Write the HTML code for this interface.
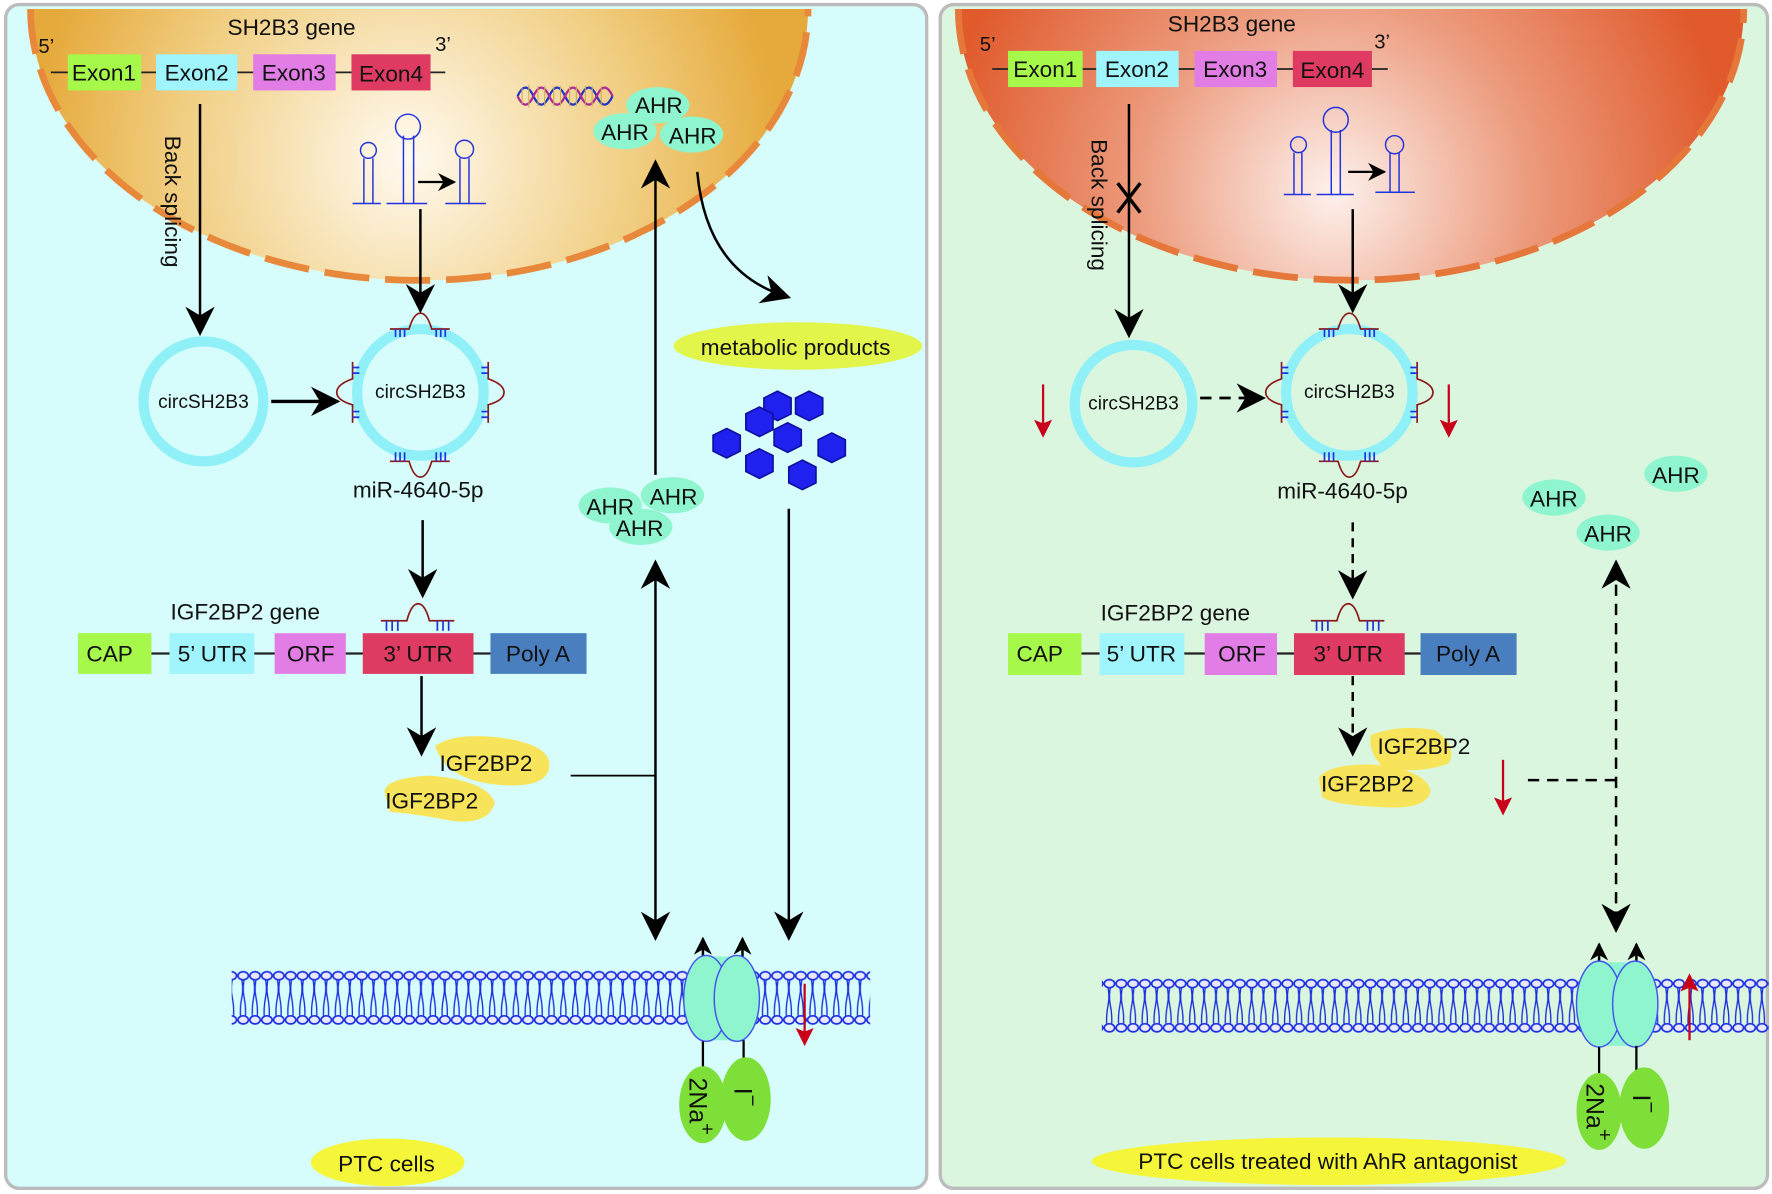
<!DOCTYPE html>
<html><head><meta charset="utf-8"><style>
html,body{margin:0;padding:0;background:#fff;}
svg{display:block;}
text{font-family:"Liberation Sans",Arial,sans-serif;fill:#111;}
</style></head><body>
<svg width="1772" height="1194" viewBox="0 0 1568 1056" preserveAspectRatio="none" xmlns="http://www.w3.org/2000/svg">
<defs>
<marker id="ah" viewBox="0 0 10 10" refX="9" refY="5" markerWidth="16" markerHeight="16" orient="auto-start-reverse" markerUnits="userSpaceOnUse">
<path d="M0,0 L10,5 L0,10 L3,5 Z" fill="#000"/></marker>
<marker id="a" viewBox="0 0 10 10" refX="8" refY="5" markerWidth="26" markerHeight="26" orient="auto-start-reverse" markerUnits="userSpaceOnUse">
<path d="M0,0 L10,5 L0,10 L3,5 Z" fill="#000"/></marker>
<marker id="ar" viewBox="0 0 10 10" refX="8" refY="5" markerWidth="16" markerHeight="16" orient="auto-start-reverse" markerUnits="userSpaceOnUse">
<path d="M0,0 L10,5 L0,10 L2,5 Z" fill="#c8001a"/></marker>
<radialGradient id="gl" cx="360" cy="140" r="330" gradientUnits="userSpaceOnUse">
<stop offset="0" stop-color="#fffaf0"/><stop offset="0.6" stop-color="#f1cf84"/><stop offset="1" stop-color="#e6aa3c"/></radialGradient>
<radialGradient id="gr" cx="1180" cy="170" r="350" gradientUnits="userSpaceOnUse">
<stop offset="0" stop-color="#fdf1ec"/><stop offset="0.5" stop-color="#ec9a7c"/><stop offset="1" stop-color="#e05a2c"/></radialGradient>
<pattern id="meml" x="0" y="855" width="10.5" height="55" patternUnits="userSpaceOnUse">
<path d="M3,8 Q6,18 4,27 Q2,37 3,47 M7,8 Q4,18 6,27 Q8,37 7,47" stroke="#1a2ee0" stroke-width="1.2" fill="none"/>
<ellipse cx="5.2" cy="8" rx="4.6" ry="3.6" fill="#e8e8f8" stroke="#1a2ee0" stroke-width="1.5"/>
<ellipse cx="5.2" cy="47" rx="4.6" ry="3.6" fill="#e8e8f8" stroke="#1a2ee0" stroke-width="1.5"/>
</pattern>
<pattern id="memr" x="0" y="862" width="10.5" height="55" patternUnits="userSpaceOnUse">
<path d="M3,8 Q6,18 4,27 Q2,37 3,47 M7,8 Q4,18 6,27 Q8,37 7,47" stroke="#1a2ee0" stroke-width="1.2" fill="none"/>
<ellipse cx="5.2" cy="8" rx="4.6" ry="3.6" fill="#e8e8f8" stroke="#1a2ee0" stroke-width="1.5"/>
<ellipse cx="5.2" cy="47" rx="4.6" ry="3.6" fill="#e8e8f8" stroke="#1a2ee0" stroke-width="1.5"/>
</pattern>
</defs>

<rect x="5" y="4" width="815" height="1047" rx="12" fill="#d6fcfb" stroke="#bcbcbc" stroke-width="3"/>
<rect x="832" y="4" width="732" height="1047" rx="12" fill="#dbf6df" stroke="#bcbcbc" stroke-width="3"/>

<path d="M27,8 A344,240 0 0 0 715,8 Z" fill="url(#gl)"/>
<path d="M27,8 A344,240 0 0 0 715,8" fill="none" stroke="#e8883a" stroke-width="6" stroke-dasharray="40,14"/>
<path d="M848,8 A347.5,240 0 0 0 1543,8 Z" fill="url(#gr)"/>
<path d="M848,8 A347.5,240 0 0 0 1543,8" fill="none" stroke="#e6773a" stroke-width="6" stroke-dasharray="40,14"/>

<text x="258" y="31" font-size="20" text-anchor="middle">SH2B3 gene</text>
<text x="34" y="47" font-size="18">5’</text><text x="385" y="45" font-size="18">3’</text>
<line x1="45" y1="64" x2="394" y2="64" stroke="#222" stroke-width="1.5"/>
<rect x="60" y="48" width="65" height="32" fill="#a6f84a"/><text x="92" y="71" font-size="20" text-anchor="middle">Exon1</text>
<rect x="138" y="48" width="72" height="32" fill="#9ff5fb"/><text x="174" y="71" font-size="20" text-anchor="middle">Exon2</text>
<rect x="224" y="48" width="73" height="32" fill="#e27de6"/><text x="260" y="71" font-size="20" text-anchor="middle">Exon3</text>
<rect x="311" y="48" width="70" height="32" fill="#df3b62"/><text x="346" y="72" font-size="20" text-anchor="middle">Exon4</text>

<text x="1090" y="28" font-size="20" text-anchor="middle">SH2B3 gene</text>
<text x="867" y="45" font-size="18">5’</text><text x="1216" y="43" font-size="18">3’</text>
<line x1="878" y1="61" x2="1228" y2="61" stroke="#222" stroke-width="1.5"/>
<rect x="892" y="45" width="66" height="32" fill="#a6f84a"/><text x="925" y="68" font-size="20" text-anchor="middle">Exon1</text>
<rect x="970" y="45" width="73" height="32" fill="#9ff5fb"/><text x="1006" y="68" font-size="20" text-anchor="middle">Exon2</text>
<rect x="1057" y="45" width="73" height="32" fill="#e27de6"/><text x="1093" y="68" font-size="20" text-anchor="middle">Exon3</text>
<rect x="1144" y="45" width="70" height="32" fill="#df3b62"/><text x="1179" y="69" font-size="20" text-anchor="middle">Exon4</text>

<g stroke="#2233dd" stroke-width="1.3" fill="none">
<path d="M312,180 H337 M322,180 V140 M330,180 V140 M357,180 V120 M366,180 V120 M342,180 H378"/>
<circle cx="326" cy="133" r="7"/><circle cx="361" cy="112" r="11"/>
<path d="M394,180 H430 M407,180 V140 M415,180 V140"/><circle cx="411" cy="132" r="8"/>
<path d="M1136,172 H1160 M1145,172 V135 M1152,172 V135 M1178,172 V115 M1186,172 V115 M1165,172 H1198"/>
<circle cx="1149" cy="128" r="7"/><circle cx="1182" cy="106" r="11"/>
<path d="M1217,170 H1252 M1230,170 V135 M1238,170 V135"/><circle cx="1234" cy="128" r="8"/>
</g>
<line x1="370" y1="161" x2="402" y2="161" stroke="#000" stroke-width="2" marker-end="url(#ah)"/>
<line x1="1193" y1="152" x2="1225" y2="152" stroke="#000" stroke-width="2" marker-end="url(#ah)"/>

<g stroke-width="2" fill="none">
<path d="M458,85 Q465,70 472,85 T486,85 T500,85 T514,85 T528,85 T542,85" stroke="#2233cc"/>
<path d="M458,85 Q465,100 472,85 T486,85 T500,85 T514,85 T528,85 T542,85" stroke="#b0269a"/>
<path d="M462,78 V92 M468,75 V95 M476,76 V94 M482,76 V94 M490,76 V94 M496,76 V94 M504,76 V94 M510,76 V94 M518,76 V94 M524,76 V94 M532,76 V94" stroke="#c9b050" stroke-width="1"/>
</g>

<g fill="#8ef5cf">
<ellipse cx="582" cy="93" rx="28" ry="16"/><ellipse cx="553" cy="116" rx="28" ry="16"/><ellipse cx="612" cy="119" rx="28" ry="16"/>
<ellipse cx="595" cy="438" rx="28" ry="16"/><ellipse cx="540" cy="447" rx="28" ry="16"/><ellipse cx="567" cy="466" rx="28" ry="16"/>
<ellipse cx="1375" cy="440" rx="28" ry="16"/><ellipse cx="1483" cy="419" rx="28" ry="16"/><ellipse cx="1423" cy="471" rx="28" ry="16"/>
</g>
<g font-size="20" text-anchor="middle">
<text x="583" y="100">AHR</text><text x="553" y="124">AHR</text><text x="613" y="127">AHR</text>
<text x="596" y="446">AHR</text><text x="540" y="455">AHR</text><text x="566" y="474">AHR</text>
<text x="1375" y="448">AHR</text><text x="1483" y="427">AHR</text><text x="1423" y="479">AHR</text>
</g>

<g fill="none" stroke="#8ff0f8" stroke-width="9">
<circle cx="180" cy="355" r="53"/><circle cx="372" cy="347" r="56"/>
<circle cx="1003" cy="357" r="52"/><circle cx="1194" cy="347" r="56"/>
</g>
<g fill="none" stroke="#8b1a1a" stroke-width="1.5">
<path d="M345,291 H362 Q366,277 372,277 Q378,277 382,291 H398"/>
<path d="M345,408 H362 Q366,422 372,422 Q378,422 382,408 H398"/>
<path d="M312,320 V335 Q298,340 298,347 Q298,354 312,358 V374"/>
<path d="M432,320 V335 Q446,340 446,347 Q446,354 432,358 V374"/>
<path d="M1167,291 H1184 Q1188,277 1194,277 Q1200,277 1204,291 H1220"/>
<path d="M1167,408 H1184 Q1188,422 1194,422 Q1200,422 1204,408 H1220"/>
<path d="M1134,320 V335 Q1120,340 1120,347 Q1120,354 1134,358 V374"/>
<path d="M1254,320 V335 Q1268,340 1268,347 Q1268,354 1254,358 V374"/>
</g>
<g stroke="#2233dd" stroke-width="1.5">
<path d="M350,291 V298 M354,291 V298 M358,291 V298 M386,291 V298 M390,291 V298 M394,291 V298"/>
<path d="M350,408 V400 M354,408 V400 M358,408 V400 M386,408 V400 M390,408 V400 M394,408 V400"/>
<path d="M1172,291 V298 M1176,291 V298 M1180,291 V298 M1208,291 V298 M1212,291 V298 M1216,291 V298"/>
<path d="M1172,408 V400 M1176,408 V400 M1180,408 V400 M1208,408 V400 M1212,408 V400 M1216,408 V400"/>
<path d="M312,325 H318 M312,330 H318 M312,364 H318 M312,369 H318 M432,325 H426 M432,330 H426 M432,364 H426 M432,369 H426"/>
<path d="M1134,325 H1140 M1134,330 H1140 M1134,364 H1140 M1134,369 H1140 M1254,325 H1248 M1254,330 H1248 M1254,364 H1248 M1254,369 H1248"/>
</g>
<g font-size="17" text-anchor="middle">
<text x="180" y="361">circSH2B3</text><text x="372" y="352">circSH2B3</text>
<text x="1003" y="362">circSH2B3</text><text x="1194" y="352">circSH2B3</text>
</g>
<text x="370" y="440" font-size="20" text-anchor="middle">miR-4640-5p</text>
<text x="1188" y="441" font-size="20" text-anchor="middle">miR-4640-5p</text>

<text x="217" y="548" font-size="20" text-anchor="middle">IGF2BP2 gene</text>
<line x1="134" y1="578" x2="434" y2="578" stroke="#222" stroke-width="2"/>
<rect x="69" y="560" width="65" height="36" fill="#a6f84a"/><text x="97" y="585" font-size="20" text-anchor="middle">CAP</text>
<rect x="150" y="560" width="75" height="36" fill="#9ff5fb"/><text x="188" y="585" font-size="20" text-anchor="middle">5’ UTR</text>
<rect x="243" y="560" width="63" height="36" fill="#e27de6"/><text x="275" y="585" font-size="20" text-anchor="middle">ORF</text>
<rect x="321" y="560" width="98" height="36" fill="#df3b62"/><text x="370" y="585" font-size="20" text-anchor="middle">3’ UTR</text>
<rect x="434" y="560" width="85" height="36" fill="#4a7fbf"/><text x="476" y="585" font-size="20" text-anchor="middle">Poly A</text>

<text x="1040" y="549" font-size="20" text-anchor="middle">IGF2BP2 gene</text>
<line x1="957" y1="578" x2="1257" y2="578" stroke="#222" stroke-width="2"/>
<rect x="892" y="560" width="65" height="37" fill="#a6f84a"/><text x="920" y="585" font-size="20" text-anchor="middle">CAP</text>
<rect x="973" y="560" width="75" height="37" fill="#9ff5fb"/><text x="1010" y="585" font-size="20" text-anchor="middle">5’ UTR</text>
<rect x="1066" y="560" width="64" height="37" fill="#e27de6"/><text x="1099" y="585" font-size="20" text-anchor="middle">ORF</text>
<rect x="1145" y="560" width="98" height="37" fill="#df3b62"/><text x="1193" y="585" font-size="20" text-anchor="middle">3’ UTR</text>
<rect x="1257" y="560" width="85" height="37" fill="#4a7fbf"/><text x="1299" y="585" font-size="20" text-anchor="middle">Poly A</text>
<g fill="none" stroke="#8b1a1a" stroke-width="1.5">
<path d="M337,549 H360 Q364,534 370,534 Q376,534 380,549 H402"/>
<path d="M1160,549 H1183 Q1187,534 1193,534 Q1199,534 1203,549 H1225"/>
</g>
<g stroke="#2233dd" stroke-width="1.5">
<path d="M342,549 V558 M347,549 V558 M352,549 V558 M387,549 V558 M392,549 V558 M397,549 V558"/>
<path d="M1165,549 V558 M1170,549 V558 M1175,549 V558 M1210,549 V558 M1215,549 V558 M1220,549 V558"/>
</g>

<g fill="#f8e45a">
<path d="M385,660 Q400,648 440,652 Q488,658 486,678 Q484,698 440,694 Q395,690 385,660 Z"/>
<path d="M340,700 Q342,688 380,686 Q430,690 438,710 Q432,730 400,726 Q370,720 345,718 Z"/>
<path d="M1213,650 Q1240,640 1270,646 Q1290,660 1282,675 Q1260,684 1225,680 Q1210,665 1213,650 Z"/>
<path d="M1167,688 Q1175,676 1212,676 Q1262,680 1266,700 Q1262,716 1225,714 Q1180,712 1170,705 Z"/>
</g>
<text x="430" y="682" font-size="20" text-anchor="middle">IGF2BP2</text>
<text x="382" y="715" font-size="20" text-anchor="middle">IGF2BP2</text>
<text x="1260" y="667" font-size="20" text-anchor="middle">IGF2BP2</text>
<text x="1210" y="700" font-size="20" text-anchor="middle">IGF2BP2</text>

<ellipse cx="706" cy="306" rx="110" ry="21" fill="#e2f54a"/>
<text x="704" y="314" font-size="20" text-anchor="middle">metabolic products</text>
<g fill="#1f22ee" stroke="#1010a0" stroke-width="1.5">
<polygon points="688,346 700,352 700,366 688,372 676,366 676,352"/>
<polygon points="716,346 728,352 728,366 716,372 704,366 704,352"/>
<polygon points="672,360 684,366 684,380 672,386 660,380 660,366"/>
<polygon points="697,374 709,380 709,394 697,400 685,394 685,380"/>
<polygon points="643,379 655,385 655,399 643,405 631,399 631,385"/>
<polygon points="736,383 748,389 748,403 736,409 724,403 724,389"/>
<polygon points="672,397 684,403 684,417 672,423 660,417 660,403"/>
<polygon points="710,407 722,413 722,427 710,433 698,427 698,413"/>
</g>

<g stroke="#000" stroke-width="2.2" fill="none">
<line x1="177" y1="92" x2="177" y2="292" marker-end="url(#a)"/>
<line x1="372" y1="185" x2="372" y2="272" marker-end="url(#a)"/>
<line x1="240" y1="355" x2="296" y2="355" stroke-width="3" marker-end="url(#a)"/>
<line x1="374" y1="460" x2="374" y2="524" marker-end="url(#a)"/>
<line x1="373" y1="598" x2="373" y2="664" marker-end="url(#a)"/>
<line x1="505" y1="686" x2="580" y2="686" stroke-width="1.6"/>
<line x1="580" y1="420" x2="580" y2="146" marker-end="url(#a)"/>
<line x1="580" y1="500" x2="580" y2="827" marker-start="url(#a)" marker-end="url(#a)"/>
<path d="M617,152 Q625,240 695,262" marker-end="url(#a)"/>
<line x1="698" y1="450" x2="698" y2="827" marker-end="url(#a)"/>
<line x1="622" y1="850" x2="622" y2="830" marker-end="url(#ah)"/>
<line x1="657" y1="850" x2="657" y2="830" marker-end="url(#ah)"/>
</g>
<text transform="translate(146,120) rotate(90)" font-size="20">Back splicing</text>

<g stroke="#000" stroke-width="2.2" fill="none">
<line x1="999" y1="92" x2="999" y2="294" marker-end="url(#a)"/>
<line x1="1197" y1="185" x2="1197" y2="272" marker-end="url(#a)"/>
<line x1="1062" y1="352" x2="1115" y2="352" stroke-width="2.5" stroke-dasharray="10,7" marker-end="url(#a)"/>
<line x1="1197" y1="462" x2="1197" y2="525" stroke-dasharray="8,6" marker-end="url(#a)"/>
<line x1="1197" y1="598" x2="1197" y2="664" stroke-dasharray="8,6" marker-end="url(#a)"/>
<line x1="1352" y1="690" x2="1430" y2="690" stroke-dasharray="10,7"/>
<line x1="1430" y1="500" x2="1430" y2="820" stroke-dasharray="10,7" marker-start="url(#a)" marker-end="url(#a)"/>
<line x1="1415" y1="855" x2="1415" y2="835" marker-end="url(#ah)"/>
<line x1="1448" y1="855" x2="1448" y2="835" marker-end="url(#ah)"/>
<path d="M989,162 L1009,188 M1009,162 L989,188" stroke-width="3"/>
</g>
<text transform="translate(966,123) rotate(90)" font-size="20">Back splicing</text>

<g stroke="#c8001a" stroke-width="2" fill="none">
<line x1="923" y1="340" x2="923" y2="384" marker-end="url(#ar)"/>
<line x1="1282" y1="340" x2="1282" y2="384" marker-end="url(#ar)"/>
<line x1="1330" y1="672" x2="1330" y2="718" marker-end="url(#ar)"/>
</g>

<rect x="205" y="855" width="565" height="55" fill="url(#meml)"/>
<rect x="975" y="862" width="590" height="55" fill="url(#memr)"/>
<line x1="1495" y1="920" x2="1495" y2="864" stroke="#c8001a" stroke-width="2" marker-end="url(#ar)"/>
<line x1="712" y1="870" x2="712" y2="922" stroke="#c8001a" stroke-width="2" marker-end="url(#ar)"/>

<path d="M625,846 H652 V920 H625 Z" fill="#8ef5cf"/>
<ellipse cx="625" cy="883" rx="20" ry="38" fill="#8ef5cf" stroke="#4455ee" stroke-width="1.3"/>
<ellipse cx="652" cy="883" rx="20" ry="38" fill="#8ef5cf" stroke="#4455ee" stroke-width="1.3"/>
<line x1="622" y1="921" x2="622" y2="945" stroke="#000" stroke-width="2"/>
<line x1="658" y1="920" x2="658" y2="942" stroke="#000" stroke-width="2"/>
<ellipse cx="622" cy="977" rx="21" ry="34" fill="#7ddf38"/>
<ellipse cx="660" cy="972" rx="22" ry="37" fill="#7ddf38"/>
<text transform="translate(610,953) rotate(90)" font-size="22">2Na<tspan dy="-10" font-size="18">+</tspan></text>
<text transform="translate(650,962) rotate(90)" font-size="22">I<tspan dy="-10" font-size="18">−</tspan></text>

<path d="M1415,851 H1447 V925 H1415 Z" fill="#8ef5cf"/>
<ellipse cx="1415" cy="888" rx="20" ry="38" fill="#8ef5cf" stroke="#4455ee" stroke-width="1.3"/>
<ellipse cx="1447" cy="888" rx="20" ry="38" fill="#8ef5cf" stroke="#4455ee" stroke-width="1.3"/>
<line x1="1415" y1="926" x2="1415" y2="950" stroke="#000" stroke-width="2"/>
<line x1="1448" y1="925" x2="1448" y2="948" stroke="#000" stroke-width="2"/>
<ellipse cx="1415" cy="983" rx="20" ry="34" fill="#7ddf38"/>
<ellipse cx="1455" cy="980" rx="22" ry="36" fill="#7ddf38"/>
<text transform="translate(1404,958) rotate(90)" font-size="22">2Na<tspan dy="-10" font-size="18">+</tspan></text>
<text transform="translate(1445,968) rotate(90)" font-size="22">I<tspan dy="-10" font-size="18">−</tspan></text>

<ellipse cx="343" cy="1028" rx="68" ry="21" fill="#f5f53a"/>
<text x="342" y="1036" font-size="20" text-anchor="middle">PTC cells</text>
<ellipse cx="1176" cy="1027" rx="210" ry="21" fill="#f5f53a"/>
<text x="1175" y="1034" font-size="20" text-anchor="middle">PTC cells treated with AhR antagonist</text>
</svg>
</body></html>
